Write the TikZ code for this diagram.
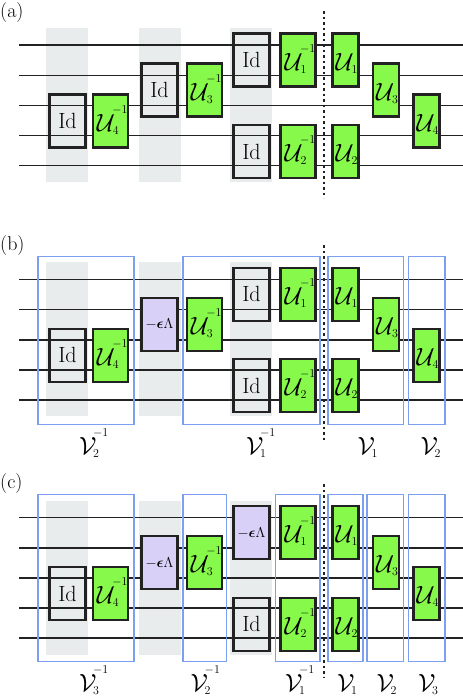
\documentclass[tikz,border=0pt]{standalone}
\usepackage{amsmath}
\definecolor{stripc}{HTML}{E9ECEC}
\definecolor{greenc}{HTML}{86F94A}
\definecolor{purplec}{HTML}{D9D0F8}
\definecolor{bluec}{HTML}{7C9FEF}
\definecolor{inkc}{HTML}{222222}
\tikzset{
  strip/.style={fill=stripc,draw=none,minimum width=42pt,minimum height=154pt,inner sep=0pt,outer sep=0pt},
  wire/.style={draw=inkc,line width=1.5pt},
  gatebase/.style={draw=inkc,line width=2.1pt,minimum height=53pt,inner sep=0pt,outer sep=0pt,text=black},
  idbox/.style={gatebase,minimum width=36pt,font=\fontsize{22}{22}\selectfont},
  uinv/.style={gatebase,minimum width=35pt,fill=greenc},
  ufwd/.style={gatebase,minimum width=26pt,fill=greenc},
  lam/.style={gatebase,minimum width=36pt,fill=purplec,font=\fontsize{15}{15}\selectfont},
  frame/.style={draw=bluec,line width=1.1pt,inner sep=0pt,outer sep=0pt,minimum height=167.5pt},
  cut/.style={draw=inkc,line width=1.8pt,dash pattern=on 2.5pt off 3pt},
  tag/.style={font=\fontsize{20}{20}\selectfont,text=black,anchor=west,inner sep=0pt},
  vlabel/.style={text=black,inner sep=0pt}
}
\newcommand{\bigsym}[1]{{\fontsize{25}{25}\selectfont$\mathcal{#1}$}}
\newcommand{\smallsym}[1]{{\fontsize{11.5}{11.5}\selectfont$#1$}}
\newcommand{\composed}[7]{\smash{%
  \rlap{\kern#2pt\raisebox{#7pt}{\bigsym{#1}}}%
  \rlap{\kern#4pt\raisebox{\dimexpr#7pt-3pt\relax}{\smallsym{#3}}}%
  \rlap{\kern#6pt\raisebox{\dimexpr#7pt+18pt\relax}{\smallsym{#5}}}}}
\newcommand{\Uinv}[1]{\composed{U}{-13.5}{#1}{2.5}{-1}{2}{-10}}
\newcommand{\Ufwd}[1]{\composed{U}{-10}{#1}{6}{}{0}{-10}}
\newcommand{\Vlab}[2]{\composed{V}{0}{#1}{14}{#2}{14}{0}}
\newcommand{\panelbase}[3]{%
  \begin{scope}[shift={(0,#1)}]
    \node[strip] (s1) at (67,105) {};
    \node[strip] (s2) at (159.5,105) {};
    \node[strip] (s3) at (251,105) {};
    \foreach \n/\y in {1/45,2/75.3,3/105.5,4/135.5,5/165.5} {
      \coordinate (wl\n) at (19,\y);
      \coordinate (wr\n) at (463,\y);
      \draw[wire] (wl\n) -- (wr\n);
    }
    \node[idbox] (i4) at (67.5,121) {Id};
    \node[uinv] (ui4) at (110.3,121) {\Uinv{4}};
    #2
    \node[uinv] (ui3) at (204.3,90) {\Uinv{3}};
    #3
    \node[idbox] (i2) at (251.5,151.5) {Id};
    \node[uinv] (ui1) at (298,60) {\Uinv{1}};
    \node[uinv] (ui2) at (298,151.5) {\Uinv{2}};
    \node[ufwd] (u1) at (345.5,60) {\Ufwd{1}};
    \node[ufwd] (u2) at (345.5,151.5) {\Ufwd{2}};
    \node[ufwd] (u3) at (386,90) {\Ufwd{3}};
    \node[ufwd] (u4) at (426.5,121) {\Ufwd{4}};
  \end{scope}}
\newcommand{\lamtext}{$-\boldsymbol{\epsilon}\Lambda$}
\begin{document}
\begin{tikzpicture}[x=1pt,y=-1pt]
\useasboundingbox (0,0) rectangle (463,696);
\node[tag] (ta) at (0,13) {(a)};
\panelbase{0}{\node[idbox] (i3) at (159.5,90) {Id};}{\node[idbox] (i1) at (251.5,60) {Id};}
\coordinate (ca) at (324,11); \coordinate (cb) at (324,198);
\draw[cut] (ca) -- (cb);

\node[tag] (tb) at (0,246) {(b)};
\panelbase{234.3}{\node[lam] (l3) at (159.5,90) {\lamtext};}{\node[idbox] (i1) at (251.5,60) {Id};}
\coordinate (cc) at (324,245); \coordinate (cd) at (324,440);
\draw[cut] (cc) -- (cd);
\foreach \n/\xa/\w in {f1/86/96,f2/251.5/137,f3/365.7/75.5,f4/426.7/36.5}
  \node[frame,minimum width=\w pt] (\n) at (\xa,340.3) {};
\node[vlabel] (v1) at (79,454) {\Vlab{2}{-1}};
\node[vlabel] (v2) at (246,454) {\Vlab{1}{-1}};
\node[vlabel] (v3) at (357.7,454) {\Vlab{1}{}};
\node[vlabel] (v4) at (420.7,454) {\Vlab{2}{}};

\node[tag] (tc) at (0,484) {(c)};
\panelbase{472.7}{\node[lam] (l3c) at (159.5,90) {\lamtext};}{\node[lam] (l1c) at (251.5,60) {\lamtext};}
\coordinate (ce) at (324,484); \coordinate (cf) at (324,678);
\draw[cut] (ce) -- (cf);
\foreach \n/\xa/\w in {g1/86/96,g2/204.7/43.5,g3/297.7/44.5,g4/345.5/35,g5/385.2/36.5,g6/426.7/36.5}
  \node[frame,minimum width=\w pt] (\n) at (\xa,578) {};
\node[vlabel] (w1) at (79,691) {\Vlab{3}{-1}};
\node[vlabel] (w2) at (190.7,691) {\Vlab{2}{-1}};
\node[vlabel] (w3) at (285,691) {\Vlab{1}{-1}};
\node[vlabel] (w4) at (337,691) {\Vlab{1}{}};
\node[vlabel] (w5) at (376.7,691) {\Vlab{2}{}};
\node[vlabel] (w6) at (418,691) {\Vlab{3}{}};
\end{tikzpicture}
\end{document}
